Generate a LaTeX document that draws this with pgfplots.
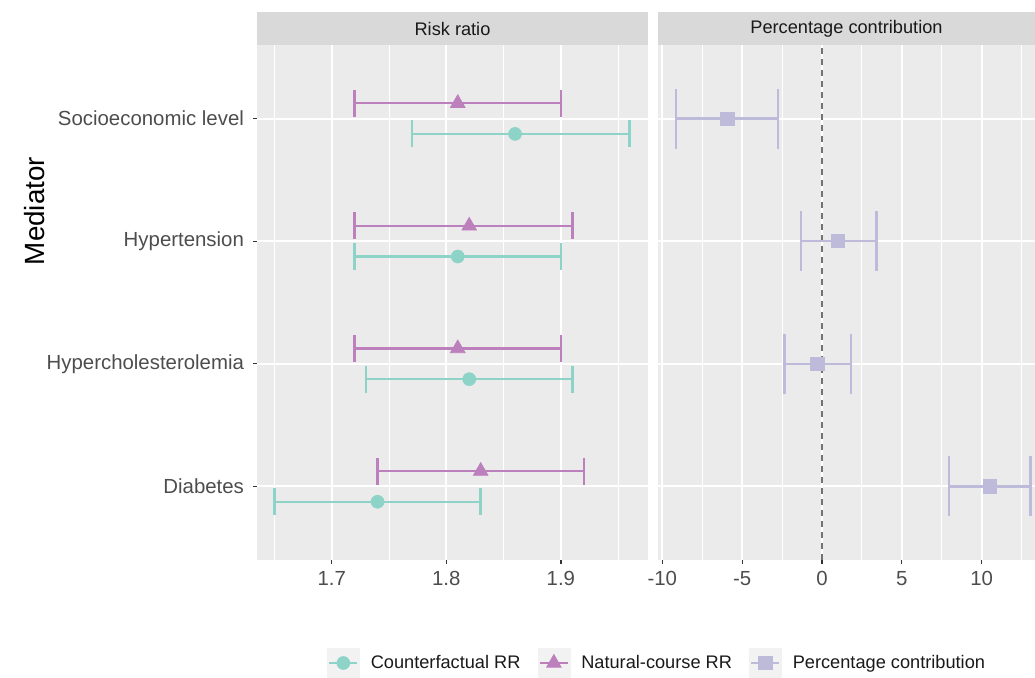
\documentclass[border=0pt]{standalone}
\usepackage{pgfplots}
\pgfplotsset{compat=1.18}
\usepackage{fontspec}
\setmainfont{Liberation Sans}
\definecolor{cf}{HTML}{8DD3C7}
\definecolor{nc}{HTML}{BC80BD}
\definecolor{pc}{HTML}{BEBADA}
\definecolor{panel}{HTML}{EBEBEB}
\definecolor{strip}{HTML}{D9D9D9}
\definecolor{txt}{HTML}{4D4D4D}
\definecolor{tk}{HTML}{333333}
\definecolor{keybg}{HTML}{F2F2F2}
\begin{document}
\begin{tikzpicture}
\useasboundingbox (0,0) rectangle (517.5pt,338.5pt);
\pgfplotsset{
  gg/.style={
    scale only axis, height=257.5pt,
    axis line style={draw=none},
    axis background/.style={fill=panel},
    grid=both,
    major grid style={white, line width=1pt},
    minor grid style={white, line width=0.5pt},
    tick align=outside, xtick pos=bottom, ytick pos=left,
    major tick length=2pt, minor tick length=0pt,
    tick style={tk, line width=0.6pt},
    ymin=0.4, ymax=4.6, ytick={1,2,3,4},
    ticklabel style={font=\fontsize{10.2}{12}\selectfont, text=txt},
    yticklabel style={xshift=-1pt},
  },
  cfs/.style={only marks, mark=*, mark size=3.2pt, color=cf, mark options={fill=cf, draw=cf},
    error bars/.cd, x dir=both, x explicit, error mark=|,
    error bar style={line width=1.2pt, color=cf},
    error mark options={mark size=6.75pt, line width=1.2pt, color=cf}},
  ncs/.style={only marks, mark=triangle*, mark size=4.2pt, color=nc, mark options={fill=nc, draw=nc},
    error bars/.cd, x dir=both, x explicit, error mark=|,
    error bar style={line width=1.2pt, color=nc},
    error mark options={mark size=6.75pt, line width=1.2pt, color=nc}},
  pcs/.style={only marks, mark=square*, mark size=3.3pt, color=pc, mark options={fill=pc, draw=pc},
    error bars/.cd, x dir=both, x explicit, error mark=|,
    error bar style={line width=1.2pt, color=pc},
    error mark options={mark size=15pt, line width=1.2pt, color=pc}},
}
\begin{axis}[gg, name=L, at={(128.5pt,58.5pt)}, anchor=south west, width=195.5pt,
  xmin=1.6348, xmax=1.976, xtick={1.7,1.8,1.9}, xticklabels={1.7,1.8,1.9},
  minor xtick={1.65,1.75,1.85,1.95},
  yticklabels={Diabetes,Hypercholesterolemia,Hypertension,Socioeconomic level},
  legend style={at={(1.0256,-0.2)}, anchor=center, draw=none, fill=none,
    legend columns=3, font=\fontsize{9.1}{11}\selectfont, text=black!90,
    nodes={inner sep=2pt},
    /tikz/every odd column/.append style={column sep=3.5pt},
    /tikz/every even column/.append style={column sep=6.5pt}},
  legend cell align=left,
]
\addlegendimage{legend image code/.code={
  \fill[keybg] (0pt,-7.5pt) rectangle (16pt,7.5pt);
  \draw[cf, line width=1.2pt] (1pt,0pt) -- (15pt,0pt);
  \fill[cf] (8pt,0pt) circle (3.2pt);}}
\addlegendentry{Counterfactual RR}
\addlegendimage{legend image code/.code={
  \fill[keybg] (0pt,-7.5pt) rectangle (16pt,7.5pt);
  \draw[nc, line width=1.2pt] (1pt,0pt) -- (15pt,0pt);
  \fill[nc] (8pt,4.2pt) -- (4.4pt,-2.1pt) -- (11.6pt,-2.1pt) -- cycle;}}
\addlegendentry{Natural-course RR}
\addlegendimage{legend image code/.code={
  \fill[keybg] (0pt,-7.5pt) rectangle (16pt,7.5pt);
  \draw[pc, line width=1.2pt] (1pt,0pt) -- (15pt,0pt);
  \fill[pc] (4.7pt,-3.3pt) rectangle (11.3pt,3.3pt);}}
\addlegendentry{Percentage contribution}
% Counterfactual RR (circles), dodged below
\addplot[cfs] coordinates {
  (1.86,3.875) -= (0.09,0) += (0.10,0)
  (1.81,2.875) -= (0.09,0) += (0.09,0)
  (1.82,1.875) -= (0.09,0) += (0.09,0)
  (1.74,0.875) -= (0.09,0) += (0.09,0)
};
% Natural-course RR (triangles), dodged above
\addplot[ncs] coordinates {
  (1.81,4.125) -= (0.09,0) += (0.09,0)
  (1.82,3.125) -= (0.10,0) += (0.09,0)
  (1.81,2.125) -= (0.09,0) += (0.09,0)
  (1.83,1.125) -= (0.09,0) += (0.09,0)
};
\end{axis}
\fill[strip] (L.north west) rectangle ([yshift=16.5pt]L.north east);
\node[font=\fontsize{9.1}{11}\selectfont, text=black!90] at ([yshift=8.25pt]L.north) {Risk ratio};

\begin{axis}[gg, name=R, at={(329pt,58.5pt)}, anchor=south west, width=188.5pt,
  xmin=-10.27, xmax=13.34, xtick={-10,-5,0,5,10}, xticklabels={-10,-5,0,5,10},
  minor xtick={-7.5,-2.5,2.5,7.5,12.5},
  yticklabels={}, ytick style={draw=none},
]
\addplot[black!55, line width=0.6pt, dash pattern=on 3pt off 2.5pt] coordinates {(0,0.4) (0,4.6)};
\addplot[pcs] coordinates {
  (-5.93,4) -= (3.23,0) += (3.16,0)
  (1.02,3) -= (2.35,0) += (2.40,0)
  (-0.29,2) -= (2.07,0) += (2.11,0)
  (10.52,1) -= (2.55,0) += (2.55,0)
};
\end{axis}
\fill[strip] (R.north west) rectangle ([yshift=16.5pt]R.north east);
\node[font=\fontsize{9.1}{11}\selectfont, text=black!90] at ([yshift=8.25pt]R.north) {Percentage contribution};

\node[rotate=90, font=\fontsize{13.9}{16}\selectfont] at (17.5pt,233pt) {Mediator};
\end{tikzpicture}
\end{document}
